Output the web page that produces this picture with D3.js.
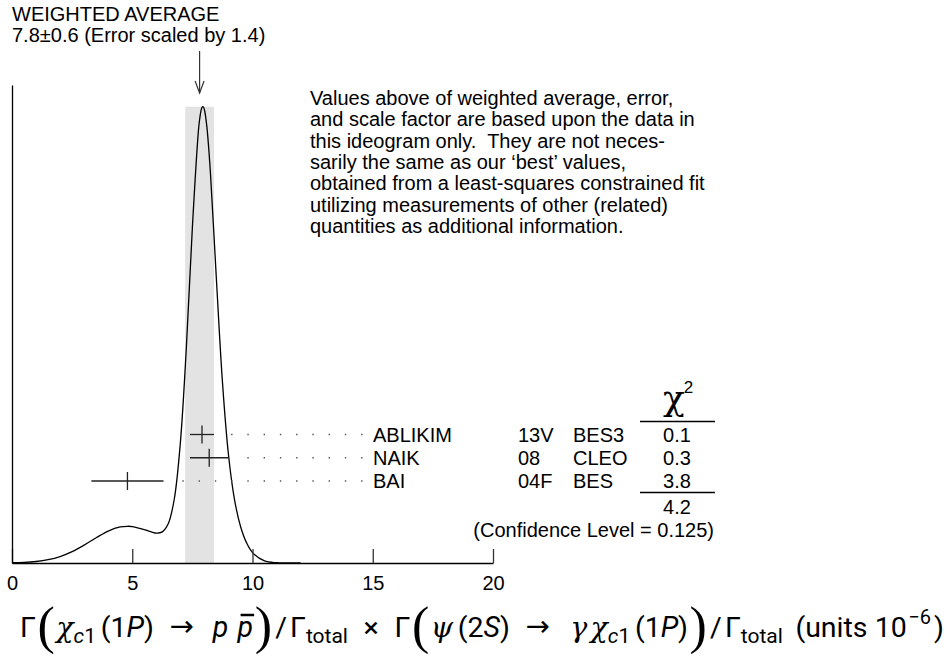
<!DOCTYPE html>
<html>
<head>
<meta charset="utf-8">
<script src="https://cdn.jsdelivr.net/npm/d3@7"></script>
<style>
body { margin: 0; background: #fff; }
svg { display: block; font-family: "Liberation Sans", Arial, sans-serif; }
</style>
</head>
<body>
<svg width="950" height="662"></svg>
<script>
// measurements in the ideogram
var experiments = ["ABLIKIM", "NAIK", "BAI"];
var years = ["13V", "08", "04F"];
var collabs = ["BES3", "CLEO", "BES"];
var values = [7.9, 8.2, 4.8];
var errors = [0.5, 0.8, 1.5];
var chi2 = ["0.1", "0.3", "3.8"];
var chi2Total = "4.2";
var confLevel = "(Confidence Level = 0.125)";
var average = 7.8, averageErr = 0.6;
var xTicks = [0, 5, 10, 15, 20];

// ideogram curve, heights
var curveX = [0, 0.5, 1, 1.5, 2, 2.5, 3, 3.5, 4, 4.5, 4.8, 5, 5.5, 6, 6.25, 6.5, 6.75, 7, 7.25, 7.5, 7.75, 7.8, 7.9, 7.95, 8, 8.1, 8.25, 8.5, 8.75, 9, 9.25, 9.5, 9.75, 10, 10.5, 11, 11.5, 12];
var curveY = [0.003, 0.007, 0.018, 0.040, 0.078, 0.137, 0.216, 0.305, 0.386, 0.436, 0.444, 0.441, 0.404, 0.361, 0.376, 0.477, 0.777, 1.451, 2.608, 4.058, 5.222, 5.360, 5.508, 5.517, 5.481, 5.282, 4.722, 3.425, 2.190, 1.312, 0.770, 0.445, 0.246, 0.126, 0.025, 0.003, 0.0003, 0];

var titleLines = ["WEIGHTED AVERAGE", "7.8\u00b10.6 (Error scaled by 1.4)"];
var noteLines = [
  "Values above of weighted average, error,",
  "and scale factor are based upon the data in",
  "this ideogram only.  They are not neces-",
  "sarily the same as our \u2018best\u2019 values,",
  "obtained from a least-squares constrained fit",
  "utilizing measurements of other (related)",
  "quantities as additional information."
];

// x axis title pieces: text, style, share of spacing before it
var formulaParts = [
  ["\u0393", "r", 0], ["(", "big", 0.1], ["\u03c7", "m", 0.1], ["c", "subi", 0], ["1", "sub", 0],
  ["(1", "r", 0.3], ["P", "i", 0], [")", "r", 0], ["\u2192", "arrow", 1], ["p", "i", 1.2],
  ["p", "bar", 0.6], [")", "big", 0.1], ["/", "r", 0.2], ["\u0393", "r", 0.2], ["total", "sub", 0],
  ["\u00d7", "r", 1], ["\u0393", "r", 1], ["(", "big", 0.1], ["\u03c8", "m", 0.1], ["(2", "r", 0.3],
  ["S", "i", 0], [")", "r", 0], ["\u2192", "arrow", 1], ["\u03b3", "m", 1.3], ["\u03c7", "m", 0.2],
  ["c", "subi", 0], ["1", "sub", 0], ["(1", "r", 0.3], ["P", "i", 0], [")", "r", 0],
  [")", "big", 0.1], ["/", "r", 0.2], ["\u0393", "r", 0.2], ["total", "sub", 0],
  ["(units 10", "r", 0.8], ["\u22126", "sup", 0.1], [")", "r", 0.2]
];

var svg = d3.select("svg");
var x = d3.scaleLinear().domain([0, 20]).range([12, 493]);
var y = d3.scaleLinear().domain([0, 5.78]).range([563, 85]);
var row = d3.scalePoint().domain(experiments).range([434.5, 481]);
var peak = d3.max(curveY);

// shaded band for the weighted average
svg.append("rect")
  .attr("x", x(average - averageErr))
  .attr("width", x(average + averageErr) - x(average - averageErr))
  .attr("y", y(peak))
  .attr("height", y(0) - y(peak))
  .attr("fill", "#e3e3e3");

// ideogram
var pts = curveX.map(function(d, i) { return [d, curveY[i]]; });
svg.append("path")
  .datum(pts)
  .attr("d", d3.line().x(function(d) { return x(d[0]); }).y(function(d) { return y(d[1]); }).curve(d3.curveCatmullRom))
  .attr("fill", "none")
  .attr("stroke", "#000")
  .attr("stroke-width", 1.3);

// axes
var gx = svg.append("g")
  .attr("transform", "translate(0,563)")
  .call(d3.axisBottom(x).tickValues(xTicks).tickSizeInner(-14).tickSizeOuter(0).tickPadding(13));
gx.attr("font-size", 20).attr("font-family", "Liberation Sans, Arial, sans-serif");
gx.select(".domain").attr("stroke-width", 1.3);
gx.selectAll(".tick line").attr("stroke", "#333").attr("stroke-width", 1.3);
gx.selectAll(".tick text").attr("fill", "#000");

var gy = svg.append("g")
  .attr("transform", "translate(" + x(0) + ",0)")
  .call(d3.axisLeft(y).tickValues([]).tickSizeOuter(0));
gy.select(".domain").attr("stroke-width", 1.3);

// arrow at the weighted average
var ax = x(average);
svg.append("line").attr("x1", ax).attr("x2", ax).attr("y1", 51).attr("y2", 93)
  .attr("stroke", "#333").attr("stroke-width", 1.2);
svg.append("path").attr("d", "M" + (ax - 4.5) + ",81L" + ax + ",93L" + (ax + 4.5) + ",81")
  .attr("fill", "none").attr("stroke", "#333").attr("stroke-width", 1.2);

// title and note
svg.selectAll(".title").data(titleLines).enter().append("text")
  .attr("class", "title")
  .attr("x", 12)
  .attr("y", function(d, i) { return 21 + i * 21.3; })
  .attr("font-size", 20)
  .text(function(d) { return d; });

svg.selectAll(".note").data(noteLines).enter().append("text")
  .attr("class", "note")
  .attr("x", 310)
  .attr("y", function(d, i) { return 105 + i * 21.3; })
  .attr("font-size", 20)
  .style("white-space", "pre")
  .text(function(d) { return d; });

// measurements: error bars, leaders, labels
experiments.forEach(function(name, i) {
  var ry = row(name);
  var lo = x(values[i] - errors[i]), hi = x(values[i] + errors[i]);
  svg.append("line").attr("x1", lo).attr("x2", hi).attr("y1", ry).attr("y2", ry)
    .attr("stroke", "#222").attr("stroke-width", 1.3);
  svg.append("line").attr("x1", x(values[i])).attr("x2", x(values[i])).attr("y1", ry - 9).attr("y2", ry + 9)
    .attr("stroke", "#222").attr("stroke-width", 1.3);
  svg.append("line").attr("x1", 362.5).attr("x2", hi + 15).attr("y1", ry).attr("y2", ry)
    .attr("stroke", "#555").attr("stroke-width", 1.4).attr("stroke-dasharray", "1.4 14.85");

  var ty = ry + 7.2;
  svg.append("text").attr("x", 373).attr("y", ty).attr("font-size", 20).text(name);
  svg.append("text").attr("x", 518).attr("y", ty).attr("font-size", 20).text(years[i]);
  svg.append("text").attr("x", 573).attr("y", ty).attr("font-size", 20).text(collabs[i]);
  svg.append("text").attr("x", 677).attr("y", ty).attr("font-size", 20).attr("text-anchor", "middle").text(chi2[i]);
});

// chi-square column
var chiHead = svg.append("text").attr("x", 663).attr("y", 410);
chiHead.append("tspan").attr("font-family", "DejaVu Serif, serif").attr("font-size", 36).text("\u03c7");
chiHead.append("tspan").attr("font-size", 17).attr("dy", -17).attr("dx", -1).text("2");
svg.append("line").attr("x1", 640).attr("x2", 715).attr("y1", 421.5).attr("y2", 421.5).attr("stroke", "#000").attr("stroke-width", 1.3);
svg.append("line").attr("x1", 640).attr("x2", 715).attr("y1", 492.5).attr("y2", 492.5).attr("stroke", "#000").attr("stroke-width", 1.3);
svg.append("text").attr("x", 677).attr("y", 513.5).attr("font-size", 20).attr("text-anchor", "middle").text(chi2Total);
svg.append("text").attr("x", 714).attr("y", 536.5).attr("font-size", 20).attr("text-anchor", "end").text(confLevel);

// x axis title, laid out piece by piece between two ends
var fs = 28.5, base = 637, startX = 20, endX = 944;
var fontFor = {
  r: ["Roboto, sans-serif", "normal", fs, 0],
  i: ["Roboto, sans-serif", "italic", fs, 0],
  bar: ["Roboto, sans-serif", "italic", fs, 0],
  arrow: ["DejaVu Sans, sans-serif", "normal", 29, -1],
  m: ["DejaVu Serif, serif", "italic", fs, 0],
  sub: ["Roboto, sans-serif", "normal", 21, 6],
  subi: ["Roboto, sans-serif", "italic", 21, 6],
  sup: ["Roboto, sans-serif", "normal", 20, -13],
  big: ["Liberation Serif, serif", "normal", 52, 6]
};
var pieces = formulaParts.map(function(p) {
  var f = fontFor[p[1]];
  var t = svg.append("text")
    .attr("y", base + f[3])
    .attr("font-family", f[0]).attr("font-style", f[1]).attr("font-size", f[2])
    .text(p[0]);
  return { node: t, w: t.node().getComputedTextLength(), gap: p[2], kind: p[1] };
});
var totalW = d3.sum(pieces, function(d) { return d.w; });
var unit = Math.max(0, (endX - startX - totalW) / d3.sum(pieces, function(d) { return d.gap; }));
var cx = startX;
pieces.forEach(function(d) {
  cx += d.gap * unit;
  d.node.attr("x", cx);
  if (d.kind === "bar") {
    svg.append("line").attr("x1", cx + 3).attr("x2", cx + d.w + 1).attr("y1", base - 22).attr("y2", base - 22)
      .attr("stroke", "#000").attr("stroke-width", 2.5);
  }
  cx += d.w;
});
</script>
</body>
</html>
